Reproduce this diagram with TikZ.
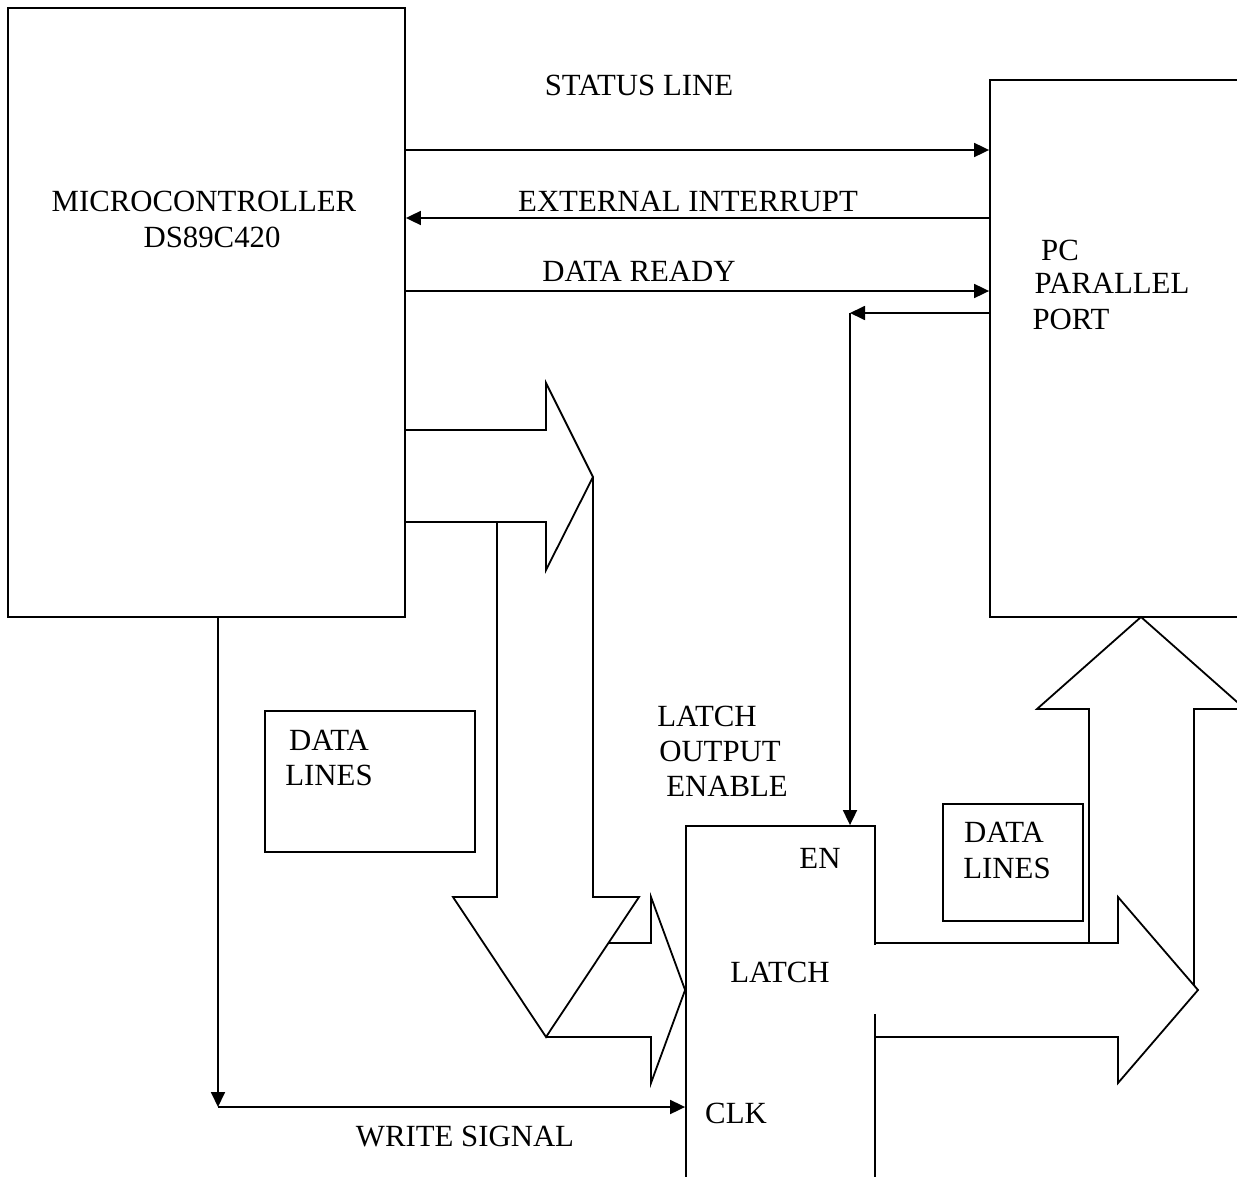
\documentclass[tikz,border=0pt]{standalone}
\usepackage{fontspec}
\setmainfont{Liberation Serif}
\usetikzlibrary{arrows.meta,fit}
\begin{document}
\begin{tikzpicture}[x=0.5pt,y=-0.5pt,
  line width=0.9pt,
  blk/.style={draw,inner sep=0pt,line width=0.9pt},
  lbl/.style={inner sep=0pt,font=\fontsize{15.4}{18}\selectfont},
  sig/.style={-{Triangle[length=7.5pt,width=7pt]}},
  fat/.style={line join=miter}]
\useasboundingbox (0,0) rectangle (1237,1177);
\clip (0,0) rectangle (1237,1177);

% boxes
\node[blk, fit={(8,8) (405,617)}] (mcu) {};
\node[blk, fit={(990,80) (1280,617)}] (pc) {};
\node[blk, fit={(265,711) (475,852)}] (dl1) {};
\node[blk, fit={(943,804) (1083,921)}] (dl2) {};

% texts
\node[lbl] (tmcu1) at (204,201) {MICROCONTROLLER};
\node[lbl] (tmcu2) at (212,237) {DS89C420};
\node[lbl] (tpc1) at (1060,250) {PC};
\node[lbl] (tpc2) at (1112,283) {PARALLEL};
\node[lbl] (tpc3) at (1071,319) {PORT};
\node[lbl] (tstat) at (639,85) {STATUS LINE};
\node[lbl] (text) at (688,201) {EXTERNAL INTERRUPT};
\node[lbl] (tdr) at (639,271) {DATA READY};
\node[lbl] (tdl1a) at (329,740) {DATA};
\node[lbl] (tdl1b) at (329,775) {LINES};
\node[lbl] (tdl2a) at (1004,832) {DATA};
\node[lbl] (tdl2b) at (1007,868) {LINES};
\node[lbl] (tloe1) at (707,716) {LATCH};
\node[lbl] (tloe2) at (720,751) {OUTPUT};
\node[lbl] (tloe3) at (727,786) {ENABLE};
\node[lbl] (tws) at (465,1137) {WRITE SIGNAL};

% y levels
\coordinate (ys) at (0,150);
\coordinate (yi) at (0,218);
\coordinate (yd) at (0,291);
\coordinate (enc) at (850,313);
\coordinate (wcx) at (218,0);
\coordinate (wc) at (218,1107);

% signal lines
\draw[sig] (mcu.east |- ys) -- (pc.west |- ys);
\draw[sig] (pc.west |- yi) -- (mcu.east |- yi);
\draw[sig] (mcu.east |- yd) -- (pc.west |- yd);

% up fat arrow to PC (behind right arrow)
\path[fat, fill=white, draw] (1089,990) -- (1089,709) -- (1037,709) -- (1141,617)
  -- (1245,709) -- (1194,709) -- (1194,990);

% latch
\node[blk, fit={(686,826) (875,1200)}] (latch) {};
\node[lbl] (ten) at (820,858) {EN};
\node[lbl] (tlat) at (780,972) {LATCH};
\node[lbl] (tclk) at (736,1113) {CLK};
\fill[white] (872,945) rectangle (879,1014);

% right fat arrow out of latch
\path[fat, fill=white, draw] (876,943) -- (1118,943) -- (1118,897) -- (1198,990)
  -- (1118,1083) -- (1118,1037) -- (876,1037);

% fat arrow out of the microcontroller
\draw[fat] (mcu.east |- 0,430) -- (546,430) -- (546,383) -- (593,477)
  -- (546,570) -- (546,522) -- (mcu.east |- 0,522);

% right fat arrow into latch
\draw[fat] (546,943) -- (651,943) -- (651,897) -- (latch.west |- 0,990)
  -- (651,1083) -- (651,1037) -- (546,1037);

% down fat arrow
\fill[white] (453,897) -- (546,1037) -- (639,897) -- cycle;
\draw[fat] (497,522) -- (497,897) -- (453,897) -- (546,1037) -- (639,897)
  -- (593,897) -- (593,477);

% enable line
\draw[sig] (pc.west |- enc) -- (enc);
\draw[sig] (enc) -- (enc |- latch.north);

% write signal
\draw[sig] (mcu.south -| wcx) -- (wc);
\draw[sig] (wc) -- (latch.west |- wc);
\end{tikzpicture}
\end{document}
